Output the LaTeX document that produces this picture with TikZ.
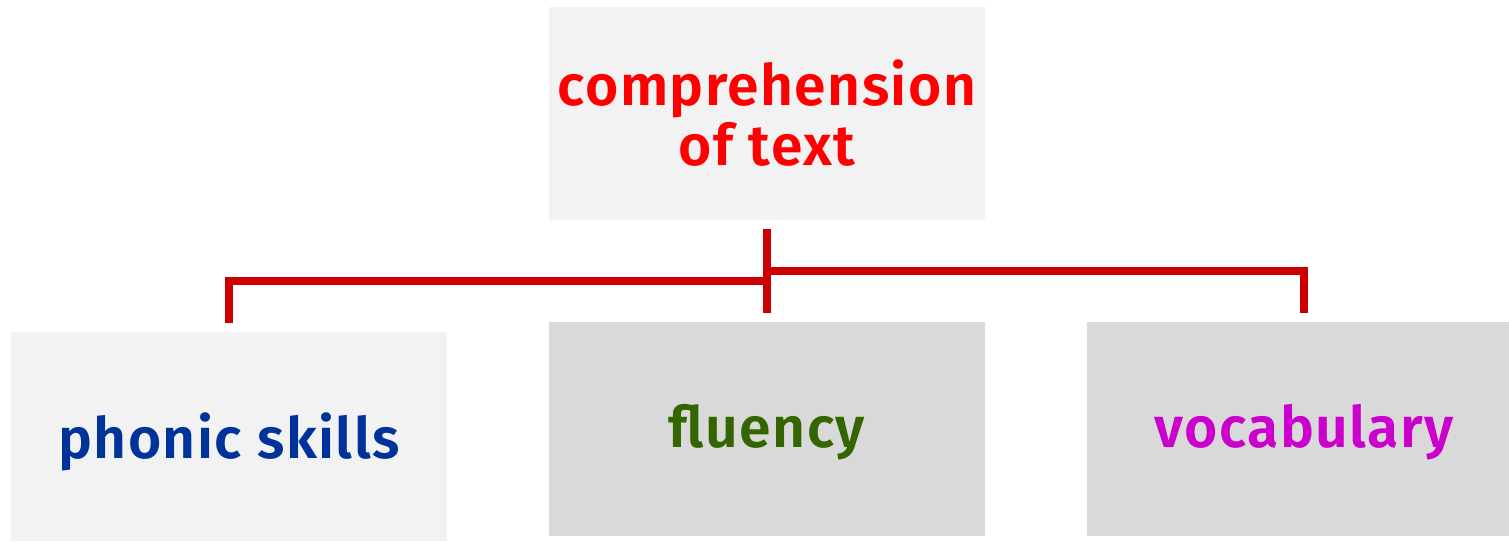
\documentclass[tikz,border=0pt]{standalone}
\usepackage{fontspec}
\setmainfont{Fira Sans}[UprightFont=* SemiBold, BoldFont=* Bold, LetterSpace=2.5]
\definecolor{lightbox}{HTML}{F2F2F2}
\definecolor{darkbox}{HTML}{D9D9D9}
\definecolor{connred}{HTML}{CC0000}
\definecolor{txtred}{HTML}{FF0000}
\definecolor{txtblue}{HTML}{003399}
\definecolor{txtgreen}{HTML}{336600}
\definecolor{txtmag}{HTML}{CC00CC}
\begin{document}
\begin{tikzpicture}[x=1pt,y=-1pt,
  boxbase/.style={inner sep=0pt, minimum width=436pt, font=\fontsize{57}{60}\selectfont, align=center},
  lightbx/.style={boxbase, fill=lightbox},
  darkbx/.style={boxbase, fill=darkbox},
  conn/.style={draw=connred, line width=8pt}]
\useasboundingbox (0,0) rectangle (1509,541);
\node[lightbx, minimum height=213pt, text=txtred] (top) at (767,113.5) {comprehension\\of text};
\node[lightbx, minimum height=209pt, text=txtblue, text height=43pt, text depth=0pt] (phonic) at (229,436.5) {phonic skills};
\node[darkbx, minimum height=214pt, text=txtgreen, text height=40pt, text depth=4pt] (fluency) at (767,429) {fluency};
\node[darkbx, minimum width=422pt, minimum height=214pt, text=txtmag, text height=40pt, text depth=4pt] (vocab) at (1298,429) {\hspace*{12pt}vocabulary};
\coordinate (hubL) at (767,281);
\coordinate (hubR) at (767,271);
\draw[conn] ([yshift=-9pt]top.south) -- ([yshift=9pt]fluency.north);
\draw[conn] (hubL) -| ([yshift=9pt]phonic.north);
\draw[conn] (hubR) -| ([xshift=6pt,yshift=9pt]vocab.north);
\end{tikzpicture}
\end{document}
